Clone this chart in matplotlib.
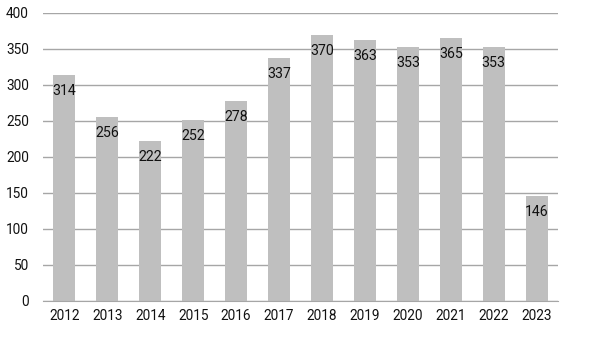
import matplotlib
matplotlib.use('Agg')
import matplotlib.pyplot as plt
import numpy as np

plt.rcParams['font.family'] = ['Roboto', 'DejaVu Sans']

years = ['2012', '2013', '2014', '2015', '2016', '2017',
         '2018', '2019', '2020', '2021', '2022', '2023']
values = [314, 256, 222, 252, 278, 337, 370, 363, 353, 365, 353, 146]

fig = plt.figure(figsize=(5.95, 3.5), dpi=100)
ax = fig.add_axes([0.072, 0.14, 0.866, 0.823])

x = np.arange(len(years))
ax.bar(x, values, width=0.51, color='#bfbfbf', zorder=2)

for xi, v in zip(x, values):
    ax.annotate(str(v), (xi, v), xytext=(0, -16), textcoords='offset pixels',
                ha='center', va='center', fontsize=10.2, color='#111111', zorder=3)

ax.set_xlim(-0.5, len(years) - 0.5)
ax.set_ylim(0, 400)
ax.set_yticks(np.arange(0, 401, 50))
ax.set_xticks(x)
ax.set_xticklabels(years)
ax.grid(axis='y', color='#a6a6a6', lw=1, zorder=1)
for s in ['top', 'right', 'left']:
    ax.spines[s].set_visible(False)
ax.spines['bottom'].set_color('#a6a6a6')
ax.tick_params(axis='both', length=0, labelsize=9.8, colors='#111111')
ax.tick_params(axis='x', pad=6)
ax.tick_params(axis='y', pad=10)

fig.savefig('out.png', dpi=100)
